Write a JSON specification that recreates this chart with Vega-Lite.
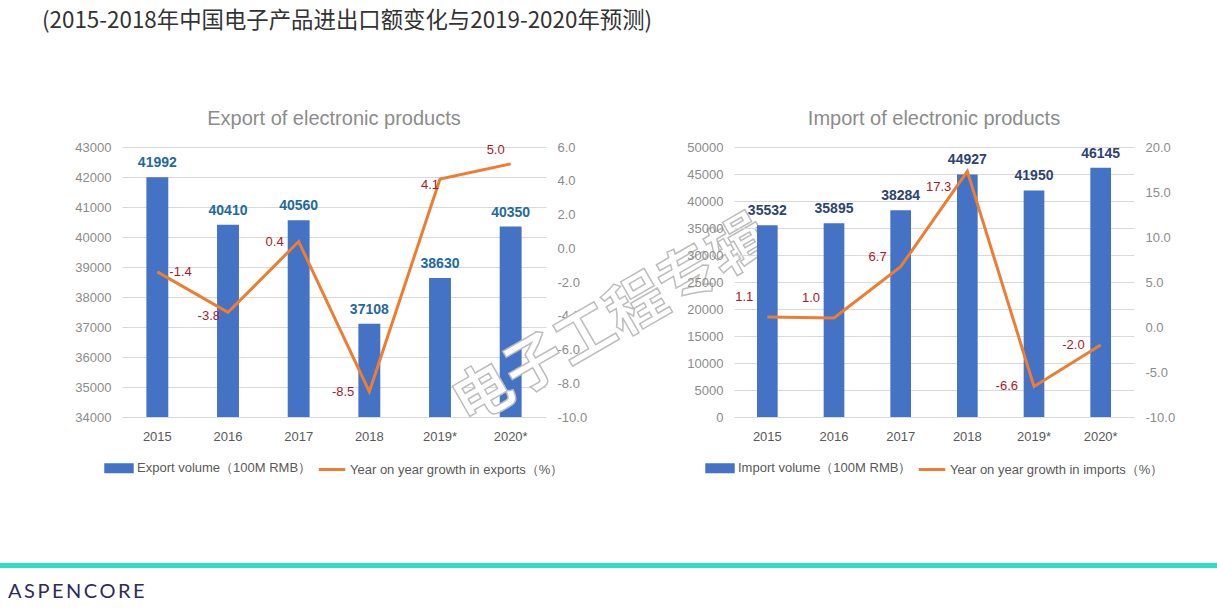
{
  "$schema": "https://vega.github.io/schema/vega-lite/v6.json",
  "padding": {"left": 0, "right": 0, "top": 9, "bottom": 0},
  "background": "white",
  "config": {
    "view": {"stroke": null},
    "locale": {"number": {"decimal": ".", "thousands": ",", "grouping": [3], "currency": ["$", ""], "minus": "-"}},
    "legend": {"layout": {"bottom": {"anchor": "middle"}}},
    "axis": {"labelOverlap": false}
  },
  "title": {"text": "(2015-2018年中国电子产品进出口额变化与2019-2020年预测)", "anchor": "start", "dx": 42, "font": "Noto Sans CJK SC", "fontSize": 22.4, "fontWeight": "normal", "color": "#333333", "offset": 77},
  "datasets": {
    "trade": [
      {"year": "2015", "export": 41992, "export_growth": -1.4, "import": 35532, "import_growth": 1.1},
      {"year": "2016", "export": 40410, "export_growth": -3.8, "import": 35895, "import_growth": 1.0},
      {"year": "2017", "export": 40560, "export_growth": 0.4, "import": 38284, "import_growth": 6.7},
      {"year": "2018", "export": 37108, "export_growth": -8.5, "import": 44927, "import_growth": 17.3},
      {"year": "2019*", "export": 38630, "export_growth": 4.1, "import": 41950, "import_growth": -6.6},
      {"year": "2020*", "export": 40350, "export_growth": 5.0, "import": 46145, "import_growth": -2.0}
    ]
  },
  "vconcat": [
    {
      "hconcat": [
        {
          "width": 122, "height": 270,
          "data": {"values": [{}]},
          "mark": {"type": "point", "opacity": 0},
          "encoding": {}
        },
        {
          "width": 424, "height": 270,
          "data": {"name": "trade"},
          "title": {"text": "Export of electronic products", "frame": "group", "anchor": "middle", "fontSize": 20, "font": "Liberation Sans", "fontWeight": "normal", "color": "#8c8c8c", "offset": 12},
          "encoding": {
            "x": {"field": "year", "type": "ordinal", "sort": null,
              "scale": {"paddingInner": 0.69, "paddingOuter": 0.345},
              "axis": {"title": null, "labelAngle": 0, "ticks": false, "domain": true, "domainColor": "#d9d9d9", "labelColor": "#595959", "labelFontSize": 13, "labelFont": "Liberation Sans", "labelPadding": 13}}
          },
          "layer": [
            {
              "layer": [
                {
                  "mark": {"type": "bar"},
                  "encoding": {
                    "y": {"field": "export", "type": "quantitative", "scale": {"domain": [34000, 43000], "zero": false, "nice": false},
                      "axis": {"orient": "left", "values": [34000, 35000, 36000, 37000, 38000, 39000, 40000, 41000, 42000, 43000], "tickCount": 20, "format": "d", "labelOverlap": false, "grid": true, "gridColor": "#d9d9d9", "domain": false, "ticks": false, "labelPadding": 11, "labelColor": "#8c8c8c", "labelFontSize": 13, "labelFont": "Liberation Sans", "title": null}},
                    "y2": {"datum": 34000},
                    "color": {"datum": "Export volume（100M RMB）", "type": "nominal",
                      "scale": {"domain": ["Export volume（100M RMB）", "Year on year growth in exports（%）"], "range": ["#4472C4", "#ED7D31"]},
                      "legend": {"orient": "bottom", "direction": "horizontal", "title": null, "offset": 10, "labelFontSize": 13, "labelColor": "#595959", "labelFont": "Liberation Sans", "labelLimit": 400, "symbolSize": 700, "symbolStrokeWidth": 3, "columnPadding": 0, "labelOffset": 3,
                        "encode": {"symbols": {"update": {
                          "shape": {"signal": "indexof(datum.value, 'volume') >= 0 ? 'M-1,-0.26H1V0.26H-1Z' : 'M-1,0H1'"},
                          "fill": {"signal": "indexof(datum.value, 'volume') >= 0 ? '#4472C4' : 'transparent'"},
                          "stroke": {"signal": "indexof(datum.value, 'volume') >= 0 ? 'transparent' : '#ED7D31'"},
                          "strokeWidth": {"value": 3}}}}}}
                  }
                },
                {
                  "mark": {"type": "text", "font": "Liberation Sans", "fontSize": 14, "fontWeight": "bold", "color": "#1F6A9E", "baseline": "alphabetic", "dy": -10},
                  "encoding": {
                    "y": {"field": "export", "type": "quantitative"},
                    "text": {"field": "export", "type": "quantitative", "format": "d"}
                  }
                }
              ]
            },
            {
              "layer": [
                {
                  "mark": {"type": "line", "strokeWidth": 3},
                  "encoding": {
                    "y": {"field": "export_growth", "type": "quantitative", "scale": {"domain": [-10, 6], "nice": false, "zero": false},
                      "axis": {"orient": "right", "values": [-10, -8, -6, -4, -2, 0, 2, 4, 6], "tickCount": 20, "format": ".1f", "labelOverlap": false, "grid": false, "domain": false, "ticks": false, "labelPadding": 11, "labelColor": "#8c8c8c", "labelFontSize": 13, "labelFont": "Liberation Sans", "title": null}},
                    "color": {"datum": "Year on year growth in exports（%）", "type": "nominal"}
                  }
                },
                {
                  "transform": [{"filter": {"field": "year", "oneOf": ["2015"]}}],
                  "mark": {"type": "text", "font": "Liberation Sans", "fontSize": 13, "color": "#A8182E", "align": "left", "baseline": "middle", "dx": 12},
                  "encoding": {"y": {"field": "export_growth", "type": "quantitative"}, "text": {"field": "export_growth", "type": "quantitative", "format": ".1f"}}
                },
                {
                  "transform": [{"filter": {"field": "year", "oneOf": ["2016"]}}],
                  "mark": {"type": "text", "font": "Liberation Sans", "fontSize": 13, "color": "#A8182E", "align": "right", "baseline": "middle", "dx": -8, "dy": 4},
                  "encoding": {"y": {"field": "export_growth", "type": "quantitative"}, "text": {"field": "export_growth", "type": "quantitative", "format": ".1f"}}
                },
                {
                  "transform": [{"filter": {"field": "year", "oneOf": ["2017", "2018"]}}],
                  "mark": {"type": "text", "font": "Liberation Sans", "fontSize": 13, "color": "#A8182E", "align": "right", "baseline": "middle", "dx": -15},
                  "encoding": {"y": {"field": "export_growth", "type": "quantitative"}, "text": {"field": "export_growth", "type": "quantitative", "format": ".1f"}}
                },
                {
                  "transform": [{"filter": {"field": "year", "oneOf": ["2019*"]}}],
                  "mark": {"type": "text", "font": "Liberation Sans", "fontSize": 13, "color": "#A8182E", "align": "right", "baseline": "middle", "dx": -1, "dy": 6},
                  "encoding": {"y": {"field": "export_growth", "type": "quantitative"}, "text": {"field": "export_growth", "type": "quantitative", "format": ".1f"}}
                },
                {
                  "transform": [{"filter": {"field": "year", "oneOf": ["2020*"]}}],
                  "mark": {"type": "text", "font": "Liberation Sans", "fontSize": 13, "color": "#A8182E", "align": "center", "baseline": "middle", "dx": -15, "dy": -14},
                  "encoding": {"y": {"field": "export_growth", "type": "quantitative"}, "text": {"field": "export_growth", "type": "quantitative", "format": ".1f"}}
                }
              ]
            }
          ],
          "resolve": {"scale": {"y": "independent"}}
        },
        {
          "width": 188, "height": 270,
          "data": {"values": [{}]},
          "mark": {"type": "text", "text": "电子工程专辑", "angle": -30, "font": "Noto Sans CJK SC", "fontSize": 59, "fontWeight": "bold", "fill": "white", "stroke": "#bdbdbd", "strokeWidth": 1.5, "align": "center", "baseline": "middle", "dx": -44, "dy": 20},
          "encoding": {}
        },
        {
          "width": 400, "height": 270,
          "data": {"name": "trade"},
          "title": {"text": "Import of electronic products", "frame": "group", "anchor": "middle", "fontSize": 20, "font": "Liberation Sans", "fontWeight": "normal", "color": "#8c8c8c", "offset": 12},
          "encoding": {
            "x": {"field": "year", "type": "ordinal", "sort": null,
              "scale": {"paddingInner": 0.69, "paddingOuter": 0.345},
              "axis": {"title": null, "labelAngle": 0, "ticks": false, "domain": true, "domainColor": "#d9d9d9", "labelColor": "#595959", "labelFontSize": 13, "labelFont": "Liberation Sans", "labelPadding": 13}}
          },
          "layer": [
            {
              "layer": [
                {
                  "mark": {"type": "bar"},
                  "encoding": {
                    "y": {"field": "import", "type": "quantitative", "scale": {"domain": [0, 50000], "nice": false},
                      "axis": {"orient": "left", "values": [0, 5000, 10000, 15000, 20000, 25000, 30000, 35000, 40000, 45000, 50000], "tickCount": 20, "format": "d", "labelOverlap": false, "grid": true, "gridColor": "#d9d9d9", "domain": false, "ticks": false, "labelPadding": 11, "labelColor": "#8c8c8c", "labelFontSize": 13, "labelFont": "Liberation Sans", "title": null}},
                    "color": {"datum": "Import volume（100M RMB）", "type": "nominal",
                      "scale": {"domain": ["Import volume（100M RMB）", "Year on year growth in imports（%）"], "range": ["#4472C4", "#ED7D31"]},
                      "legend": {"orient": "bottom", "direction": "horizontal", "title": null, "offset": 10, "labelFontSize": 13, "labelColor": "#595959", "labelFont": "Liberation Sans", "labelLimit": 400, "symbolSize": 700, "symbolStrokeWidth": 3, "columnPadding": 0, "labelOffset": 3,
                        "encode": {"symbols": {"update": {
                          "shape": {"signal": "indexof(datum.value, 'volume') >= 0 ? 'M-1,-0.26H1V0.26H-1Z' : 'M-1,0H1'"},
                          "fill": {"signal": "indexof(datum.value, 'volume') >= 0 ? '#4472C4' : 'transparent'"},
                          "stroke": {"signal": "indexof(datum.value, 'volume') >= 0 ? 'transparent' : '#ED7D31'"},
                          "strokeWidth": {"value": 3}}}}}}
                  }
                },
                {
                  "mark": {"type": "text", "font": "Liberation Sans", "fontSize": 14, "fontWeight": "bold", "color": "#2E4372", "baseline": "alphabetic", "dy": -10},
                  "encoding": {
                    "y": {"field": "import", "type": "quantitative"},
                    "text": {"field": "import", "type": "quantitative", "format": "d"}
                  }
                }
              ]
            },
            {
              "layer": [
                {
                  "mark": {"type": "line", "strokeWidth": 3},
                  "encoding": {
                    "y": {"field": "import_growth", "type": "quantitative", "scale": {"domain": [-10, 20], "nice": false, "zero": false},
                      "axis": {"orient": "right", "values": [-10, -5, 0, 5, 10, 15, 20], "tickCount": 20, "format": ".1f", "labelOverlap": false, "grid": false, "domain": false, "ticks": false, "labelPadding": 11, "labelColor": "#8c8c8c", "labelFontSize": 13, "labelFont": "Liberation Sans", "title": null}},
                    "color": {"datum": "Year on year growth in imports（%）", "type": "nominal"}
                  }
                },
                {
                  "transform": [{"filter": {"field": "year", "oneOf": ["2015", "2016"]}}],
                  "mark": {"type": "text", "font": "Liberation Sans", "fontSize": 13, "color": "#A8182E", "align": "right", "baseline": "middle", "dx": -14, "dy": -20},
                  "encoding": {"y": {"field": "import_growth", "type": "quantitative"}, "text": {"field": "import_growth", "type": "quantitative", "format": ".1f"}}
                },
                {
                  "transform": [{"filter": {"field": "year", "oneOf": ["2017"]}}],
                  "mark": {"type": "text", "font": "Liberation Sans", "fontSize": 13, "color": "#A8182E", "align": "right", "baseline": "middle", "dx": -14, "dy": -10},
                  "encoding": {"y": {"field": "import_growth", "type": "quantitative"}, "text": {"field": "import_growth", "type": "quantitative", "format": ".1f"}}
                },
                {
                  "transform": [{"filter": {"field": "year", "oneOf": ["2018"]}}],
                  "mark": {"type": "text", "font": "Liberation Sans", "fontSize": 13, "color": "#A8182E", "align": "right", "baseline": "middle", "dx": -16, "dy": 16},
                  "encoding": {"y": {"field": "import_growth", "type": "quantitative"}, "text": {"field": "import_growth", "type": "quantitative", "format": ".1f"}}
                },
                {
                  "transform": [{"filter": {"field": "year", "oneOf": ["2019*", "2020*"]}}],
                  "mark": {"type": "text", "font": "Liberation Sans", "fontSize": 13, "color": "#A8182E", "align": "right", "baseline": "middle", "dx": -16},
                  "encoding": {"y": {"field": "import_growth", "type": "quantitative"}, "text": {"field": "import_growth", "type": "quantitative", "format": ".1f"}}
                }
              ]
            }
          ],
          "resolve": {"scale": {"y": "independent"}}
        }
      ],
      "spacing": 0,
      "bounds": "flush",
      "resolve": {"scale": {"color": "independent"}, "legend": {"color": "independent"}}
    },
    {
      "width": 1217, "height": 29,
      "data": {"values": [{"brand": "ASPENCORE"}]},
      "layer": [
        {
          "mark": {"type": "rect", "color": "#2EDDC4"},
          "encoding": {
            "x": {"datum": 0, "type": "quantitative", "scale": {"domain": [0, 1]}, "axis": null},
            "x2": {"datum": 1},
            "y": {"datum": 1, "type": "quantitative", "scale": {"domain": [0, 1]}, "axis": null},
            "y2": {"datum": 0.828}
          }
        },
        {
          "mark": {"type": "text", "align": "left", "baseline": "middle", "dx": 8, "font": "Lato", "fontSize": 20, "color": "#2D2A5E"},
          "encoding": {
            "x": {"datum": 0, "type": "quantitative"},
            "y": {"datum": 0, "type": "quantitative"},
            "text": {"value": "A\u2009S\u2009P\u2009E\u2009N\u2009C\u2009O\u2009R\u2009E"}
          }
        }
      ]
    }
  ],
  "spacing": 85
}
